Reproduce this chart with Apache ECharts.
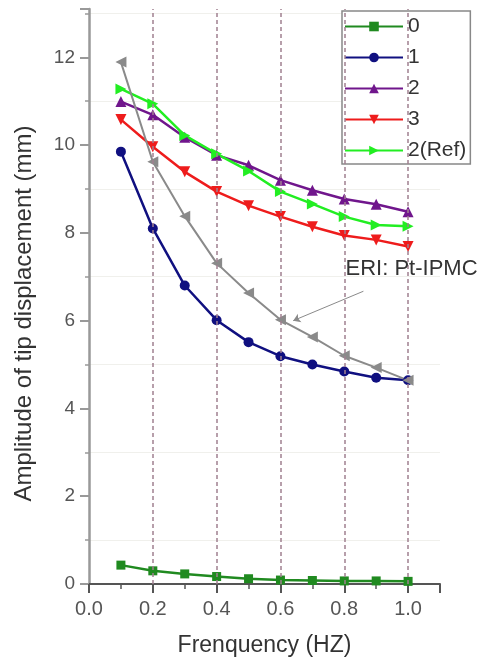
<!DOCTYPE html>
<html>
<head>
<meta charset="utf-8">
<script src="https://cdn.jsdelivr.net/npm/echarts@6/dist/echarts.min.js"></script>
<style>
  html, body { margin: 0; padding: 0; background: #fff; }
  #chart { width: 495px; height: 662px; }
</style>
</head>
<body>
<div id="chart"></div>
<script>
const freq = [0.1, 0.2, 0.3, 0.4, 0.5, 0.6, 0.7, 0.8, 0.9, 1.0];
const amp0 = [0.43, 0.30, 0.23, 0.17, 0.12, 0.09, 0.08, 0.07, 0.07, 0.06];
const amp1 = [9.85, 8.10, 6.80, 6.01, 5.51, 5.19, 5.00, 4.84, 4.70, 4.64];
const amp2 = [10.99, 10.69, 10.18, 9.77, 9.54, 9.20, 8.97, 8.77, 8.65, 8.48];
const amp3 = [10.58, 9.96, 9.39, 8.94, 8.62, 8.37, 8.14, 7.94, 7.84, 7.69];
const amp2Ref = [11.28, 10.94, 10.22, 9.80, 9.41, 8.94, 8.66, 8.37, 8.18, 8.15];
const ampEri = [11.89, 9.62, 8.38, 7.31, 6.63, 6.02, 5.63, 5.20, 4.93, 4.64];
const dashedX = [0.2, 0.4, 0.6, 0.8, 1.0];
const legendNames = ["0", "1", "2", "3", "2(Ref)"];

const pairs = (arr) => freq.map((f, i) => [f, arr[i]]);
const font = "Arial, 'Liberation Sans', sans-serif";

function lineSeries(name, data, color, symbol, size, rotate) {
  return {
    name: name,
    type: "line",
    data: pairs(data),
    symbol: symbol,
    symbolSize: size,
    symbolRotate: rotate || 0,
    lineStyle: { color: color, width: 2.5 },
    itemStyle: { color: color },
    animation: false,
  };
}

const series = [
  lineSeries("0", amp0, "#208a20", "rect", 9),
  lineSeries("1", amp1, "#101080", "circle", 10),
  lineSeries("2", amp2, "#70168c", "triangle", 11),
  lineSeries("3", amp3, "#ee1c1c", "triangle", 11, 180),
  lineSeries("2(Ref)", amp2Ref, "#22ee22", "triangle", 11, -90),
  lineSeries("ERI: Pt-IPMC", ampEri, "#8a8a8a", "triangle", 11, 90),
];

// vertical dashed guides
series[0].markLine = {
  silent: true,
  symbol: "none",
  label: { show: false },
  lineStyle: { type: [4, 3], color: "#a08090", width: 1.5 },
  data: dashedX.map((x) => ({ xAxis: x })),
};

// annotation arrow and text for the gray curve
series[5].lineStyle.width = 2;
series[5].markLine = {
  silent: true,
  symbol: ["none", "arrow"],
  symbolSize: 7,
  label: { show: false },
  lineStyle: { type: "solid", color: "#8a8a8a", width: 1 },
  data: [[{ coord: [0.86, 6.67] }, { coord: [0.64, 6.0], itemStyle: { color: "#111" } }]],
};
series[5].markPoint = {
  silent: true,
  symbol: "circle",
  symbolSize: 0,
  label: {
    show: true,
    position: [0, 0],
    align: "left",
    verticalAlign: "middle",
    formatter: "ERI: Pt-IPMC",
    color: "#333",
    fontSize: 22,
    fontFamily: font,
  },
  data: [{ coord: [0.804, 7.17] }],
};

const chart = echarts.init(document.getElementById("chart"));
chart.setOption({
  backgroundColor: "#fff",
  animation: false,
  grid: { left: 89, right: 55, top: 9, bottom: 75 },
  legend: {
    data: legendNames,
    orient: "vertical",
    left: 342,
    top: 11,
    itemWidth: 58,
    itemHeight: 12,
    itemGap: 10,
    padding: [5, 4, 3, 2],
    borderColor: "#888",
    borderWidth: 1.5,
    backgroundColor: "#fff",
    textStyle: { fontSize: 21, color: "#333", fontFamily: font },
  },
  xAxis: {
    type: "value",
    min: 0,
    max: 1.1,
    interval: 0.2,
    name: "Frenquency (HZ)",
    nameLocation: "middle",
    nameGap: 50,
    nameTextStyle: { fontSize: 23, color: "#333", fontFamily: font },
    axisLine: { lineStyle: { color: "#555", width: 2 } },
    axisTick: { show: true, length: 9, lineStyle: { color: "#555", width: 2 } },
    minorTick: { show: true, splitNumber: 2, length: 5, lineStyle: { color: "#555", width: 1.5 } },
    axisLabel: {
      margin: 15,
      fontSize: 20,
      color: "#555",
      fontFamily: font,
      showMaxLabel: false,
      formatter: (v) => v.toFixed(1),
    },
    splitLine: { show: false },
  },
  yAxis: {
    type: "value",
    min: 0,
    max: 13.1,
    interval: 2,
    name: "Amplitude of tip displacement (mm)",
    nameLocation: "middle",
    nameGap: 53,
    nameTextStyle: { fontSize: 24, color: "#333", fontFamily: font, padding: [0, 34, 0, 0] },
    axisLine: { show: true, lineStyle: { color: "#999", width: 2.5 } },
    axisTick: { show: true, length: 9, lineStyle: { color: "#999", width: 2 } },
    minorTick: { show: true, splitNumber: 2, length: 4, lineStyle: { color: "#999", width: 1.5 } },
    axisLabel: {
      margin: 14,
      fontSize: 19,
      color: "#555",
      fontFamily: font,
      showMaxLabel: false,
    },
    splitLine: { show: false },
    minorSplitLine: { show: true, lineStyle: { color: "#f0f0ec", width: 1 } },
  },
  series: series,
});
</script>
</body>
</html>
